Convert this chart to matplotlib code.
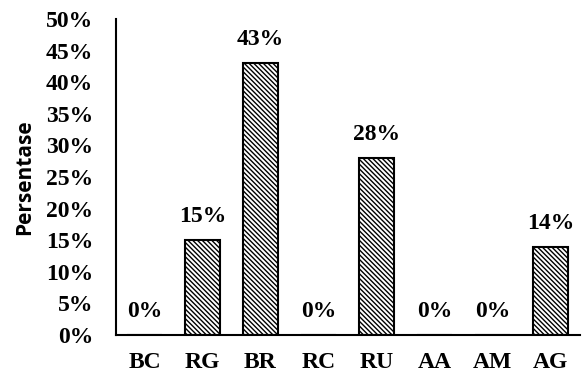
import matplotlib
matplotlib.use("Agg")
import matplotlib.pyplot as plt
from matplotlib.ticker import PercentFormatter

categories = ["BC", "RG", "BR", "RC", "RU", "AA", "AM", "AG"]
values = [0, 15, 43, 0, 28, 0, 0, 14]
yticks = [0, 5, 10, 15, 20, 25, 30, 35, 40, 45, 50]

plt.rcParams["hatch.linewidth"] = 1.0

fig = plt.figure(figsize=(5.83, 3.78), dpi=100)
ax = fig.add_axes([115.5 / 583, 43 / 378, 464 / 583, 316 / 378])

x = range(len(categories))
bars = ax.bar(x, values, width=0.6, facecolor="white", edgecolor="black",
              linewidth=1.5, hatch="\\" * 7)

for xi, v in zip(x, values):
    ax.text(xi, v + 3.7, f"{v}%", ha="center", va="center",
            fontfamily="Liberation Serif", fontweight="bold", fontsize=17)

ax.set_xlim(-0.5, len(categories) - 0.5)
ax.set_ylim(0, 50)
ax.set_yticks(yticks)
ax.yaxis.set_major_formatter(PercentFormatter(decimals=0))
ax.set_xticks(list(x))
ax.set_xticklabels(categories)
ax.tick_params(axis="both", length=0, labelsize=17)
ax.tick_params(axis="x", pad=12)
ax.tick_params(axis="y", pad=16)
for lbl in ax.get_xticklabels() + ax.get_yticklabels():
    lbl.set_fontfamily("Liberation Serif")
    lbl.set_fontweight("bold")
for lbl in ax.get_yticklabels():
    lbl.set_horizontalalignment("right")

ax.spines["top"].set_visible(False)
ax.spines["right"].set_visible(False)
ax.spines["left"].set_linewidth(1.5)
ax.spines["bottom"].set_linewidth(1.5)

ax.set_ylabel("Persentase", fontfamily="Open Sans", fontweight="bold",
              fontsize=15, labelpad=8)

fig.savefig("out.png", dpi=100)
